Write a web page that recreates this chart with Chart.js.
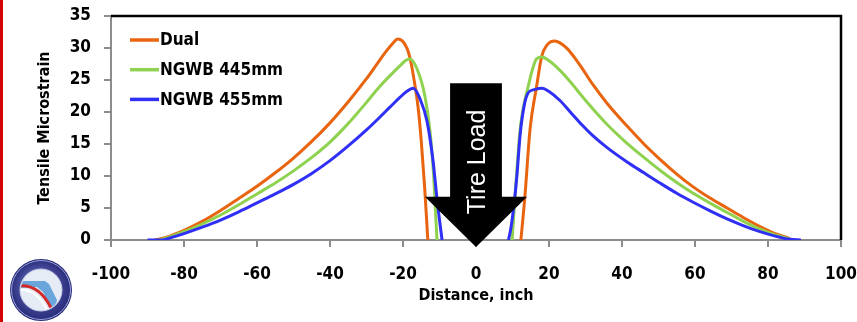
<!DOCTYPE html>
<html>
<head>
<meta charset="utf-8">
<script src="https://cdn.jsdelivr.net/npm/chart.js@4.4.1/dist/chart.umd.min.js"></script>
<style>
  html, body { margin: 0; padding: 0; background: #fff; }
  canvas { display: block; }
</style>
</head>
<body>
<canvas id="chart" width="857" height="322"></canvas>
<script>
// distance (inch) / tensile microstrain; null splits left and right branch
const dualDist = [-88, -85, -80, -75, -70, -65, -60, -55, -50, -45, -40, -35, -30, -27, -25, -23, -21.4, -20.2, -19.3, -18.6, -17.8, -17.2, -15.9, -15.0, -14.1, -13.2,
  0,
  12.3, 13.4, 14.8, 16.6, 18.0, 19.5, 21.6, 23, 25, 27, 29, 32, 36, 41.4, 46, 50.4, 55, 59.5, 64, 68.8, 73, 77.8, 82, 85.2, 86.5];
const dualStrain = [0, 0.4, 1.5, 2.9, 4.6, 6.5, 8.4, 10.5, 12.8, 15.4, 18.3, 21.6, 25.2, 27.6, 29.2, 30.6, 31.4, 31.1, 30.4, 29.5, 27.7, 25.8, 20.9, 15.5, 8.5, 0,
  null,
  0, 6.8, 17.3, 24, 28.7, 30.5, 31.1, 30.8, 29.9, 28.5, 26.9, 24.3, 21.3, 17.8, 15.0, 12.6, 10.3, 8.3, 6.6, 5.0, 3.6, 2.1, 1.0, 0.4, 0];

const ngwb445Dist = [-87, -85, -80, -75, -70, -65, -60, -55, -50, -45, -40, -36, -33, -30, -26.5, -23, -20.5, -19.2, -18.1, -16.2, -14.0, -12.6, -11.6, -10.7,
  0,
  9.9, 10.6, 12.1, 14.3, 16.6, 18.1, 20, 23, 26, 29, 32, 36, 41, 46, 50.4, 55, 59.5, 64, 68.8, 73, 77.8, 82, 85.2, 86.5];
const ngwb445Strain = [0, 0.3, 1.3, 2.5, 3.9, 5.5, 7.2, 8.9, 10.8, 12.9, 15.3, 17.6, 19.5, 21.5, 23.9, 26.0, 27.4, 28.1, 28.3, 26.8, 22.5, 17.0, 10.0, 0,
  null,
  0, 6.0, 17.3, 24, 28.3, 28.6, 28.0, 26.5, 24.6, 22.5, 20.5, 18.0, 15.3, 12.9, 10.9, 9.0, 7.3, 5.8, 4.3, 3.0, 1.7, 0.8, 0.3, 0];

const ngwb455Dist = [-90, -86, -84, -80, -75, -70, -65, -60, -55, -50, -45, -40, -35, -30, -26.5, -23.5, -21, -19, -17.2, -15.3, -13.4, -11.8, -10.6, -9.3,
  0,
  8.9, 9.6, 10.4, 11.2, 12.1, 13.2, 14.3, 16, 18.1, 20, 23, 26, 29, 32, 36, 41.4, 46, 50.4, 55, 59.5, 64, 68.8, 73, 77.8, 82, 86, 89];
const ngwb455Strain = [0, 0, 0.3, 1.0, 2.0, 3.1, 4.4, 5.8, 7.2, 8.7, 10.4, 12.4, 14.7, 17.2, 19.1, 20.8, 22.2, 23.2, 23.7, 22.0, 18.5, 12.5, 6.0, 0,
  null,
  0, 2.0, 5.5, 10.0, 16.5, 21.0, 23.0, 23.5, 23.7, 23.2, 21.8, 19.9, 18.0, 16.3, 14.4, 12.2, 10.5, 8.9, 7.3, 5.9, 4.6, 3.3, 2.3, 1.3, 0.6, 0.1, 0];

const seriesNames = ['Dual', 'NGWB 445mm', 'NGWB 455mm'];

// tire load arrow, in data units
const arrowAt = 0;
const arrowShaftHalf = 7.1;
const arrowHeadHalf = 14;
const arrowTop = 24.5;
const arrowNeck = 6.75;
const arrowTip = -1.1;

const FONT = "'DejaVu Sans Condensed', 'DejaVu Sans', sans-serif";

function points(xs, ys) {
  return xs.map((x, i) => ({ x: x, y: ys[i] }));
}

const pageDecor = {
  id: 'pageDecor',
  beforeDraw(chart) {
    const ctx = chart.ctx;
    ctx.save();
    ctx.fillStyle = '#fff';
    ctx.fillRect(0, 0, chart.width, chart.height);
    ctx.fillStyle = '#d40000';
    ctx.fillRect(0, 0, 3, chart.height);
    ctx.restore();
  },
  afterDraw(chart) {
    const ctx = chart.ctx;
    const a = chart.chartArea;
    ctx.save();
    // plot frame, top and right
    ctx.strokeStyle = '#000';
    ctx.lineWidth = 2.5;
    ctx.beginPath();
    ctx.moveTo(a.left, a.top);
    ctx.lineTo(a.right, a.top);
    ctx.lineTo(a.right, a.bottom);
    ctx.stroke();

    // FDOT seal, bottom left
    const cx = 41, cy = 290;
    let g = ctx.createRadialGradient(cx - 6, cy - 8, 4, cx, cy, 31);
    g.addColorStop(0, '#6a6fc0');
    g.addColorStop(1, '#262a78');
    ctx.fillStyle = g;
    ctx.beginPath(); ctx.arc(cx, cy, 31, 0, Math.PI * 2); ctx.fill();
    ctx.strokeStyle = '#9aa0d8'; ctx.lineWidth = 1;
    ctx.beginPath(); ctx.arc(cx, cy, 29.5, 0, Math.PI * 2); ctx.stroke();
    ctx.fillStyle = '#e6ecf6';
    ctx.beginPath(); ctx.arc(cx, cy, 21, 0, Math.PI * 2); ctx.fill();
    ctx.strokeStyle = '#c8cde8';
    ctx.beginPath(); ctx.arc(cx, cy, 21, 0, Math.PI * 2); ctx.stroke();
    ctx.save();
    ctx.beginPath(); ctx.arc(cx, cy, 20, 0, Math.PI * 2); ctx.clip();
    ctx.fillStyle = '#6aa6dc';
    ctx.beginPath();
    ctx.moveTo(cx - 22, cy - 9);
    ctx.lineTo(cx + 4, cy - 9);
    ctx.lineTo(cx + 8, cy - 6);
    ctx.lineTo(cx + 16, cy + 10);
    ctx.lineTo(cx + 14, cy + 20);
    ctx.lineTo(cx + 8, cy + 14);
    ctx.lineTo(cx + 2, cy + 2);
    ctx.lineTo(cx - 4, cy - 3);
    ctx.lineTo(cx - 22, cy - 2);
    ctx.closePath();
    ctx.fill();
    ctx.strokeStyle = '#d32a2a'; ctx.lineWidth = 3;
    ctx.beginPath();
    ctx.moveTo(cx - 22, cy - 4);
    ctx.quadraticCurveTo(cx - 2, cy - 6, cx + 10, cy + 18);
    ctx.stroke();
    ctx.strokeStyle = '#ffffff'; ctx.lineWidth = 2;
    ctx.beginPath();
    ctx.moveTo(cx - 22, cy);
    ctx.quadraticCurveTo(cx - 4, cy - 1, cx + 6, cy + 20);
    ctx.stroke();
    ctx.restore();
    ctx.restore();
  }
};

const insideLegend = {
  id: 'insideLegend',
  afterDatasetsDraw(chart) {
    const ctx = chart.ctx;
    const a = chart.chartArea;
    ctx.save();
    ctx.font = 'bold 17px ' + FONT;
    ctx.textBaseline = 'middle';
    chart.data.datasets.forEach((ds, i) => {
      const x = a.left + 19;
      const y = a.top + 24 + i * 29.7;
      ctx.strokeStyle = ds.borderColor;
      ctx.lineWidth = 3.5;
      ctx.beginPath();
      ctx.moveTo(x, y);
      ctx.lineTo(x + 29, y);
      ctx.stroke();
      ctx.fillStyle = '#000';
      ctx.fillText(ds.label, x + 30, y + 1);
    });
    ctx.restore();
  }
};

const tireLoad = {
  id: 'tireLoad',
  afterDatasetsDraw(chart) {
    const ctx = chart.ctx;
    const xs = chart.scales.x, ys = chart.scales.y;
    const cx = xs.getPixelForValue(arrowAt);
    const sL = xs.getPixelForValue(arrowAt - arrowShaftHalf);
    const sR = xs.getPixelForValue(arrowAt + arrowShaftHalf);
    const hL = xs.getPixelForValue(arrowAt - arrowHeadHalf);
    const hR = xs.getPixelForValue(arrowAt + arrowHeadHalf);
    const top = ys.getPixelForValue(arrowTop);
    const neck = ys.getPixelForValue(arrowNeck);
    const tip = ys.getPixelForValue(arrowTip);
    ctx.save();
    ctx.fillStyle = '#000';
    ctx.beginPath();
    ctx.moveTo(sL, top);
    ctx.lineTo(sR, top);
    ctx.lineTo(sR, neck);
    ctx.lineTo(hR, neck);
    ctx.lineTo(cx, tip);
    ctx.lineTo(hL, neck);
    ctx.lineTo(sL, neck);
    ctx.closePath();
    ctx.fill();
    ctx.translate(cx + 2, ys.getPixelForValue(12.2));
    ctx.rotate(-Math.PI / 2);
    ctx.fillStyle = '#fff';
    ctx.font = "25px 'Liberation Sans', Arial, sans-serif";
    ctx.textAlign = 'center';
    ctx.textBaseline = 'middle';
    ctx.fillText('Tire Load', 0, 0);
    ctx.restore();
  }
};

new Chart(document.getElementById('chart'), {
  type: 'line',
  data: {
    datasets: [{
      label: seriesNames[0],
      data: points(dualDist, dualStrain),
      borderColor: '#e8640f',
      order: 2,
    }, {
      label: seriesNames[1],
      data: points(ngwb445Dist, ngwb445Strain),
      borderColor: '#8fd24f',
      order: 1,
    }, {
      label: seriesNames[2],
      data: points(ngwb455Dist, ngwb455Strain),
      borderColor: '#2f2ff5',
      order: 0,
    }].map(ds => Object.assign(ds, {
      borderWidth: 3,
      pointRadius: 0,
      fill: false,
      spanGaps: false,
      cubicInterpolationMode: 'monotone',
    }))
  },
  options: {
    responsive: false,
    animation: false,
    devicePixelRatio: 1,
    layout: {
      padding: { top: 16, right: 16, left: 0, bottom: 0 },
    },
    plugins: {
      legend: { display: false },
      tooltip: { enabled: false },
    },
    scales: {
      x: {
        type: 'linear',
        min: -100,
        max: 100,
        ticks: {
          stepSize: 20,
          color: '#000',
          padding: 17,
          font: { family: FONT, size: 17, weight: 'bold' },
        },
        grid: { drawOnChartArea: false, tickLength: 7, color: '#8c8c8c', lineWidth: 2 },
        border: { color: '#8c8c8c', width: 2 },
        title: {
          display: true,
          text: 'Distance, inch',
          color: '#000',
          font: { family: FONT, size: 16, weight: 'bold' },
          padding: { top: 0, bottom: 17 },
        },
        afterFit(scale) {
          scale.height = 82;
          scale.paddingLeft = 0;
          scale.paddingRight = 0;
        },
      },
      y: {
        min: 0,
        max: 35,
        ticks: {
          stepSize: 5,
          color: '#000',
          padding: 13,
          font: { family: FONT, size: 17, weight: 'bold' },
        },
        grid: { drawOnChartArea: false, tickLength: 7, color: '#8c8c8c', lineWidth: 2 },
        border: { color: '#8c8c8c', width: 2 },
        title: {
          display: true,
          text: 'Tensile Microstrain',
          color: '#000',
          font: { family: FONT, size: 16, weight: 'bold' },
          padding: { top: 35, bottom: 0 },
        },
        afterFit(scale) {
          scale.width = 111;
          scale.paddingTop = 0;
          scale.paddingBottom = 0;
        },
      },
    },
  },
  plugins: [pageDecor, insideLegend, tireLoad],
});
</script>
</body>
</html>
